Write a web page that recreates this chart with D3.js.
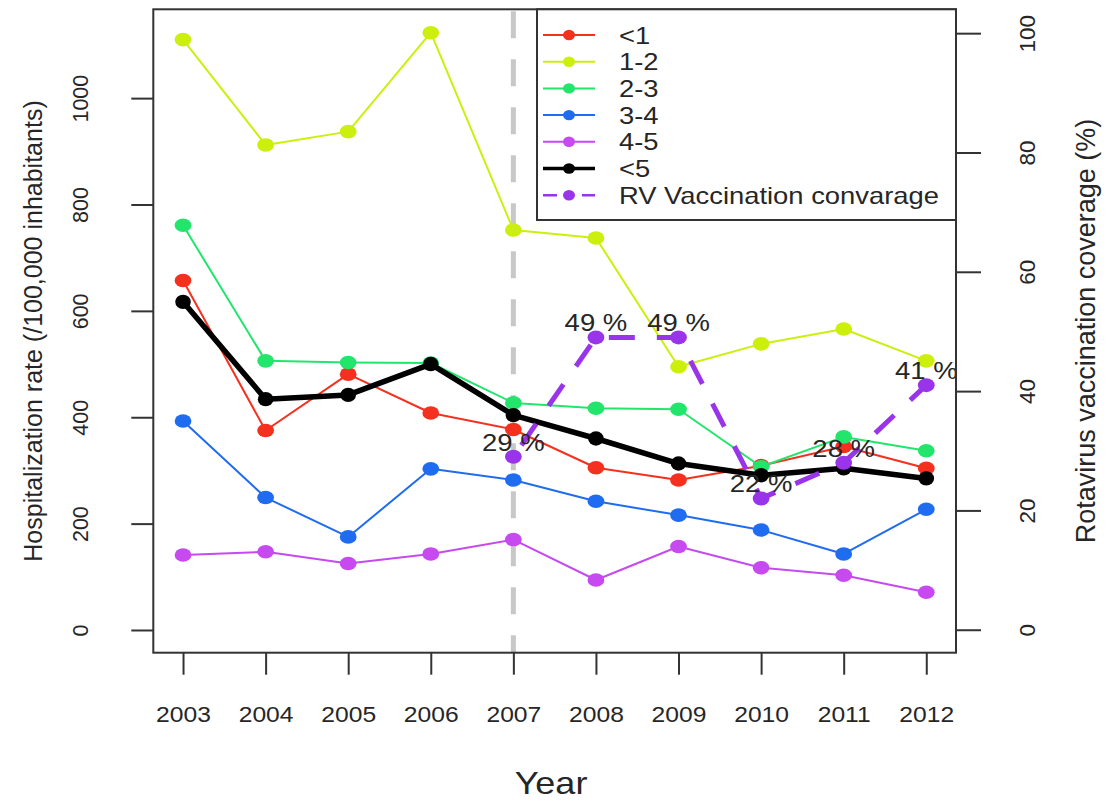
<!DOCTYPE html>
<html>
<head>
<meta charset="utf-8">
<script src="https://cdn.jsdelivr.net/npm/d3@7"></script>
<style>
  html, body { margin: 0; padding: 0; background: #fff; }
  svg { display: block; }
  text { font-family: "Liberation Sans", Arial, Helvetica, sans-serif; fill: #262626; }
</style>
</head>
<body>
<svg id="chart" width="1106" height="801"></svg>
<script>
// ---------------- data ----------------
const years = [2003, 2004, 2005, 2006, 2007, 2008, 2009, 2010, 2011, 2012];
const seriesNames = ["<1", "1-2", "2-3", "3-4", "4-5", "<5"];
const rateUnder1 = [657, 375, 481, 408, 377, 305, 282, 309, 345, 304];
const rate1to2   = [1110, 912, 937, 1123, 752, 737, 495, 538, 566, 506];
const rate2to3   = [761, 506, 503, 502, 427, 417, 415, 307, 363, 337];
const rate3to4   = [393, 249, 175, 303, 282, 242, 216, 188, 143, 227];
const rate4to5   = [141, 147, 125, 143, 170, 94, 157, 117, 103, 71];
const rateUnder5 = [617, 434, 442, 500, 404, 360, 313, 291, 304, 285];
const vaccYears = [2007, 2008, 2009, 2010, 2011, 2012];
const vaccCoverage = [29, 49, 49, 22, 28, 41];
const vaccLabel = "RV Vaccination convarage";
const vaccineIntroYear = 2007;
const leftTicks = [0, 200, 400, 600, 800, 1000];
const rightTicks = [0, 20, 40, 60, 80, 100];
const xTitle = "Year";
const yLeftTitle = "Hospitalization rate (/100,000 inhabitants)";
const yRightTitle = "Rotavirus vaccination coverage (%)";

// ---------------- styles ----------------
const colors = ["#f5301f", "#cdef0c", "#22e66c", "#1f6cf0", "#c64af0", "#000000"];
const vaccColor = "#9a34ea";
const seriesValues = [rateUnder1, rate1to2, rate2to3, rate3to4, rate4to5, rateUnder5];

const svg = d3.select("#chart");
const box = { left: 153.3, right: 956, top: 9.3, bottom: 652.7 };

const x = d3.scaleLinear().domain([2003 - 0.36, 2012 + 0.36]).range([box.left, box.right]);
const yL = d3.scaleLinear().domain([-42.7, 1167]).range([box.bottom, box.top]);
const yR = d3.scaleLinear().domain([-3.85, 104]).range([box.bottom, box.top]);

function stretch(sel, k) {
  sel.each(function () {
    const w = this.getComputedTextLength();
    d3.select(this).attr("textLength", w * k).attr("lengthAdjust", "spacingAndGlyphs");
  });
}

// vertical dashed line at vaccine introduction
svg.append("line")
  .attr("x1", x(vaccineIntroYear)).attr("x2", x(vaccineIntroYear))
  .attr("y1", box.top + 2).attr("y2", box.bottom)
  .attr("stroke", "#c8c8c8").attr("stroke-width", 5)
  .attr("stroke-dasharray", "27,21");

// series
const line = d3.line().x(d => x(d.year)).y(d => yL(d.v));
seriesValues.forEach((vals, i) => {
  const data = years.map((yr, j) => ({ year: yr, v: vals[j] }));
  const isTotal = i === 5;
  svg.append("path").datum(data)
    .attr("d", line).attr("fill", "none")
    .attr("stroke", colors[i]).attr("stroke-width", isTotal ? 5.5 : 2)
    .attr("stroke-linejoin", "round");
  svg.append("g").selectAll("ellipse").data(data).join("ellipse")
    .attr("cx", d => x(d.year)).attr("cy", d => yL(d.v))
    .attr("rx", isTotal ? 7.8 : 8.4).attr("ry", isTotal ? 7.2 : 6.8)
    .attr("fill", colors[i]);
});

// vaccination coverage (right axis)
const vdata = vaccYears.map((yr, j) => ({ year: yr, v: vaccCoverage[j] }));
const vline = d3.line().x(d => x(d.year)).y(d => yR(d.v));
svg.append("path").datum(vdata)
  .attr("d", vline).attr("fill", "none")
  .attr("stroke", vaccColor).attr("stroke-width", 5)
  .attr("stroke-dasharray", "26,22").attr("stroke-dashoffset", -14);
svg.append("g").selectAll("ellipse").data(vdata).join("ellipse")
  .attr("cx", d => x(d.year)).attr("cy", d => yR(d.v))
  .attr("rx", 8.4).attr("ry", 7).attr("fill", vaccColor);
const pct = svg.append("g").selectAll("text").data(vdata).join("text")
  .attr("x", d => x(d.year)).attr("y", d => yR(d.v) - 6)
  .attr("text-anchor", "middle").attr("font-size", 23.5)
  .attr("fill", "#2a2a2a")
  .text(d => d.v + " %");
stretch(pct, 1.17);

// axes
const axL = svg.append("g").attr("transform", `translate(${box.left},0)`)
  .call(d3.axisLeft(yL).tickValues(leftTicks).tickSize(22).tickSizeOuter(0).tickFormat(d3.format("d")));
const axR = svg.append("g").attr("transform", `translate(${box.right},0)`)
  .call(d3.axisRight(yR).tickValues(rightTicks).tickSize(25).tickSizeOuter(0).tickFormat(d3.format("d")));
const axB = svg.append("g").attr("transform", `translate(0,${box.bottom})`)
  .call(d3.axisBottom(x).tickValues(years).tickSize(22).tickSizeOuter(0).tickFormat(d3.format("d")));
[axL, axR, axB].forEach(a => {
  a.attr("font-family", null).attr("font-size", null);
  a.select(".domain").remove();
  a.selectAll(".tick line").attr("stroke", "#333").attr("stroke-width", 2);
  a.selectAll(".tick text").attr("fill", "#262626");
});
axL.selectAll(".tick text")
  .attr("x", 0).attr("y", 0).attr("dy", 0).attr("text-anchor", "middle")
  .attr("font-size", 21.5)
  .attr("transform", "translate(-65,0) rotate(-90)");
axR.selectAll(".tick text")
  .attr("x", 0).attr("y", 0).attr("dy", 0).attr("text-anchor", "middle")
  .attr("font-size", 22.5)
  .attr("transform", "translate(79,0) rotate(-90)");
axB.selectAll(".tick text")
  .attr("y", 69).attr("dy", 0).attr("font-size", 22);
stretch(axB.selectAll(".tick text"), 1.12);

// box
svg.append("rect")
  .attr("x", box.left).attr("y", box.top)
  .attr("width", box.right - box.left).attr("height", box.bottom - box.top)
  .attr("fill", "none").attr("stroke", "#333").attr("stroke-width", 2);

// titles
const yt = svg.append("text")
  .attr("transform", `translate(551,794)`)
  .attr("text-anchor", "middle").attr("font-size", 30.5)
  .text(xTitle);
stretch(yt, 1.18);
svg.append("text")
  .attr("transform", `translate(42,${(box.top + box.bottom) / 2}) rotate(-90)`)
  .attr("text-anchor", "middle").attr("font-size", 25)
  .text(yLeftTitle);
svg.append("text")
  .attr("transform", `translate(1095,${(box.top + box.bottom) / 2}) rotate(-90)`)
  .attr("text-anchor", "middle").attr("font-size", 27)
  .text(yRightTitle);

// legend
const lg = svg.append("g");
lg.append("rect").attr("x", 537).attr("y", box.top).attr("width", box.right - 537).attr("height", 220 - box.top)
  .attr("fill", "#fff").attr("stroke", "#333").attr("stroke-width", 2);
const legendItems = seriesNames.map((n, i) => ({ name: n, color: colors[i], total: i === 5, vacc: false }))
  .concat([{ name: vaccLabel, color: vaccColor, total: false, vacc: true }]);
legendItems.forEach((it, i) => {
  const cy = 35 + i * 26.7;
  lg.append("line").attr("x1", 543).attr("x2", 595).attr("y1", cy).attr("y2", cy)
    .attr("stroke", it.color).attr("stroke-width", it.total ? 3.5 : (it.vacc ? 2.5 : 2))
    .attr("stroke-dasharray", it.vacc ? "14,25,13" : null);
  lg.append("ellipse").attr("cx", 569).attr("cy", cy).attr("rx", 6).attr("ry", 5.2).attr("fill", it.color);
  const t = lg.append("text").attr("x", 619).attr("y", cy + 8.5).attr("font-size", 24).text(it.name);
  stretch(t, 1.14);
});
</script>
</body>
</html>
